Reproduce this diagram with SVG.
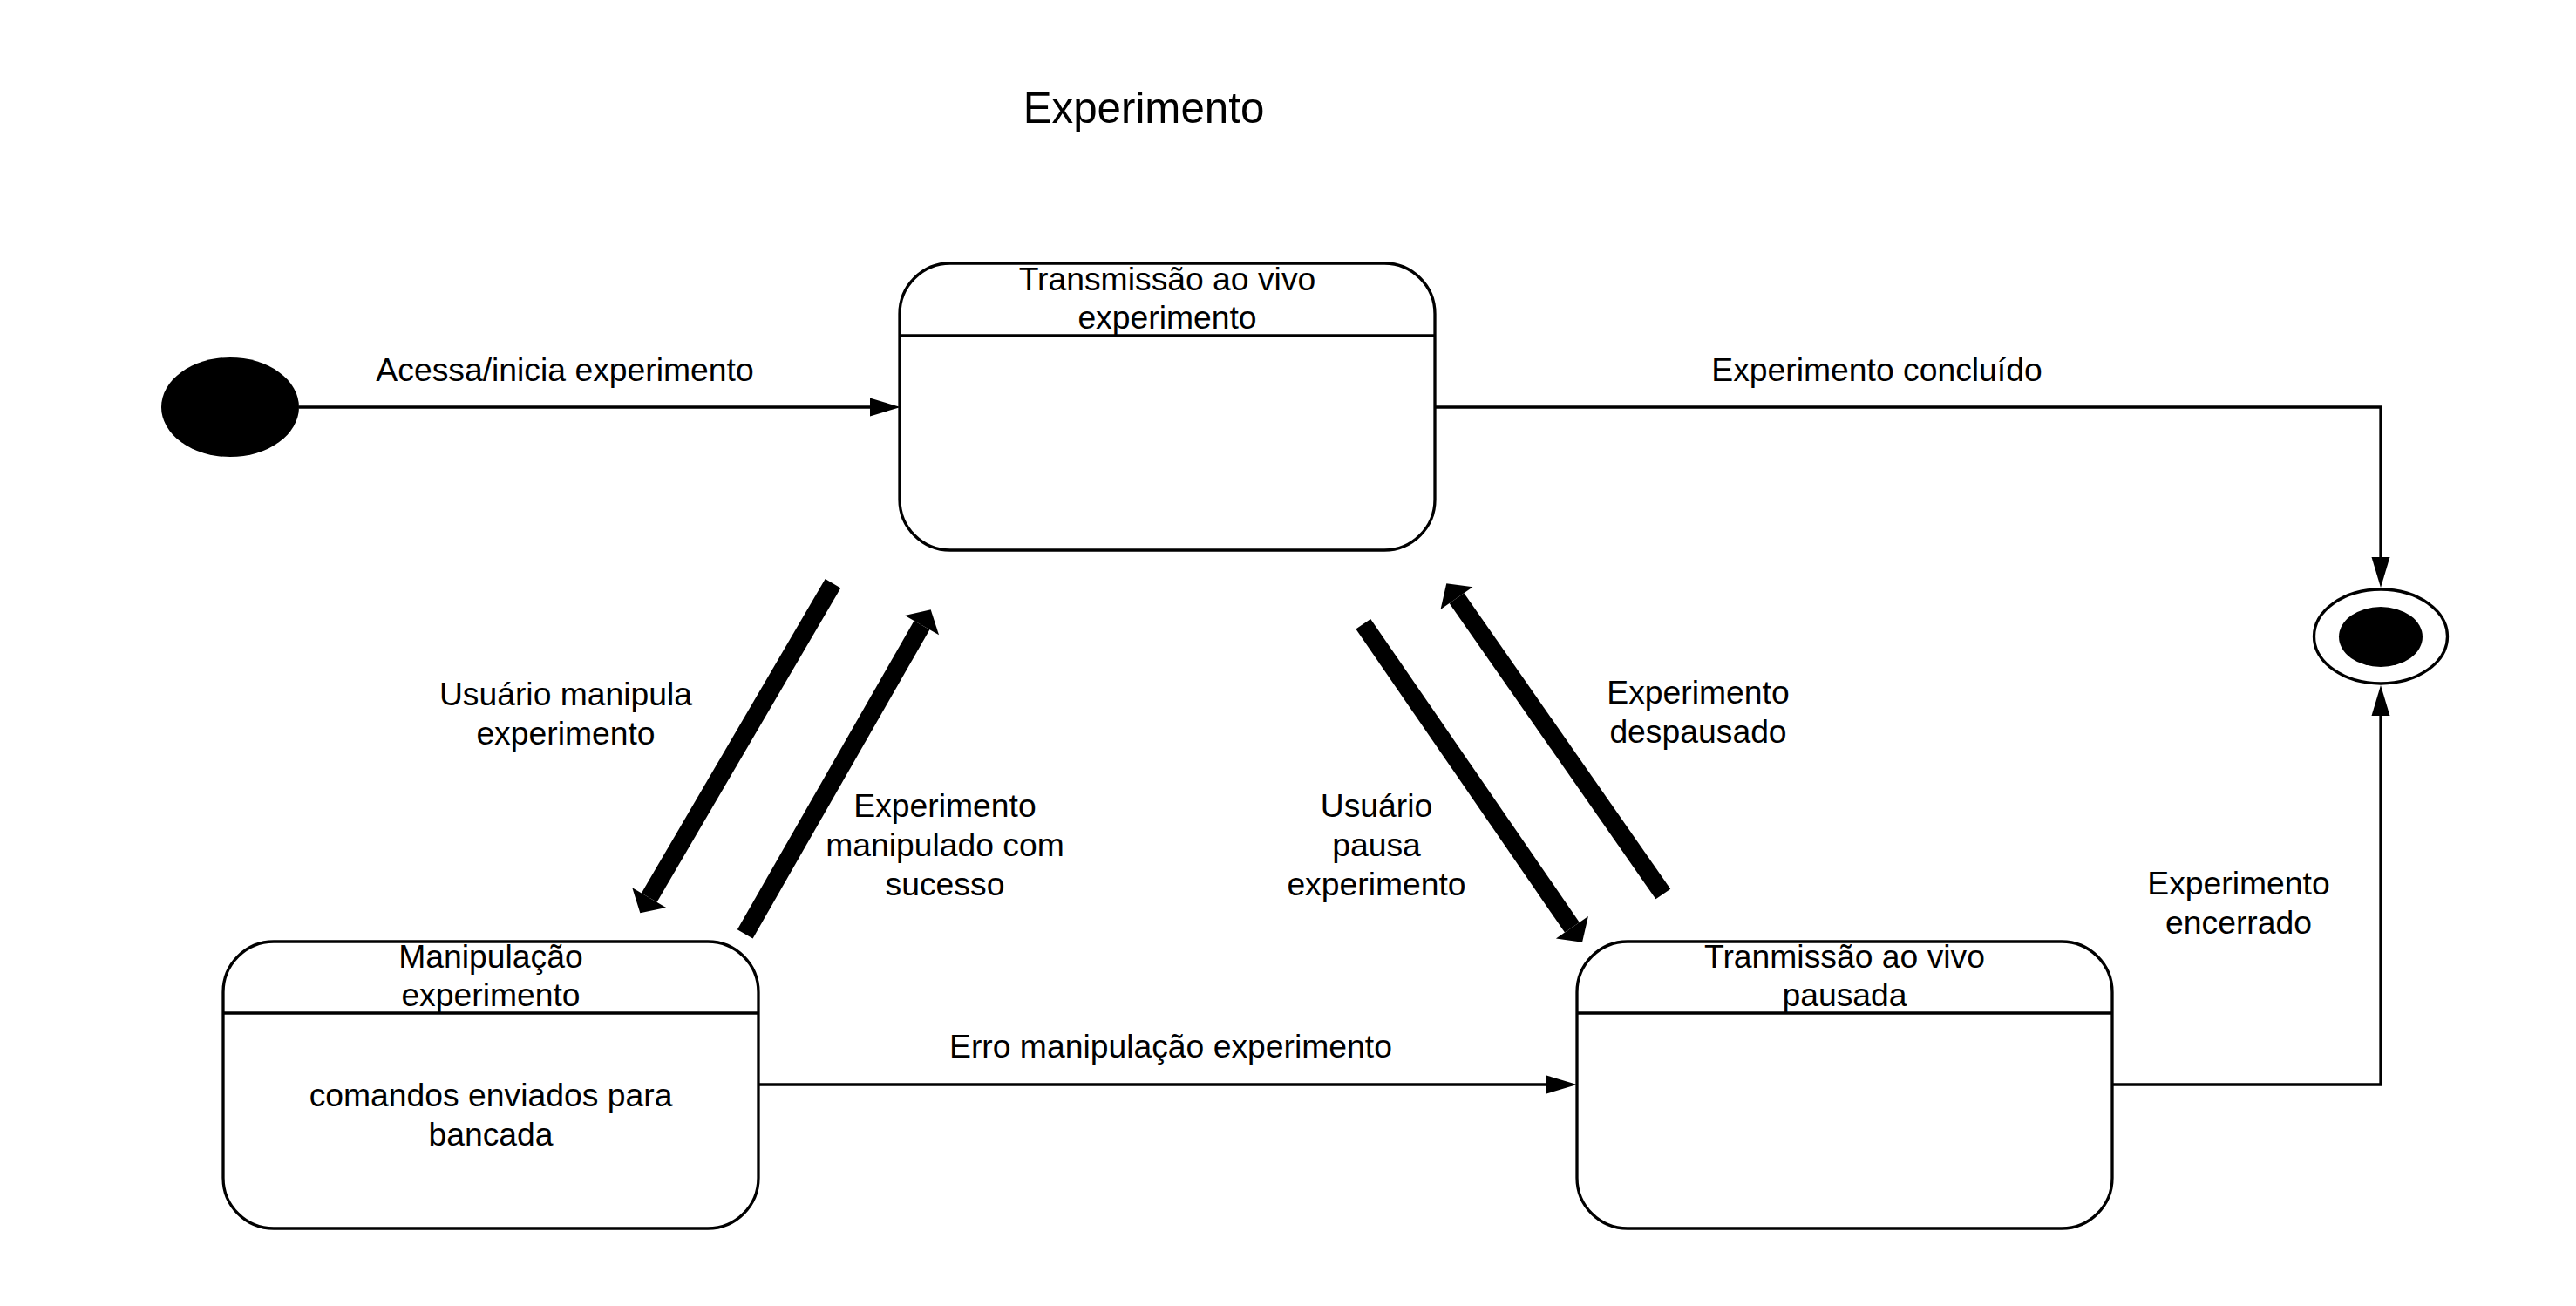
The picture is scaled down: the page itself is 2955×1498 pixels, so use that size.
<svg xmlns="http://www.w3.org/2000/svg" width="2955" height="1498" viewBox="0 0 2955 1498">
  <style>
    text { font-family: "Liberation Sans", Arial, sans-serif; font-size: 37.3px; fill: #000; text-anchor: middle; }
    .title { font-size: 49.3px; }
    .state { fill: #fff; stroke: #000; stroke-width: 3.3; }
    .div { stroke: #000; stroke-width: 3.3; }
    .edge { fill: none; stroke: #000; stroke-width: 3.3; }
    .thick { fill: none; stroke: #000; stroke-width: 20.5; stroke-linecap: butt; }
  </style>
  <defs>
    <marker id="thin" markerUnits="userSpaceOnUse" orient="auto" markerWidth="40" markerHeight="24" refX="0" refY="12" viewBox="0 0 40 24" overflow="visible">
      <path d="M0,1.5 L35,12 L0,22.5 Z" fill="#000"/>
    </marker>
    <marker id="thickhead" markerUnits="userSpaceOnUse" orient="auto" markerWidth="24" markerHeight="48" refX="0" refY="24" viewBox="0 0 24 48" overflow="visible">
      <path d="M0,1.5 L20.5,24 L0,46.5 Z" fill="#000"/>
    </marker>
  </defs>
  <rect width="2955" height="1498" fill="#fff"/>

  <g id="title">
    <text class="title" x="1312" y="141">Experimento</text>
  </g>

  <g id="connectors">
    <g id="e-acessa">
      <path class="edge" d="M343,467 L998,467" marker-end="url(#thin)"/>
      <text x="648" y="437">Acessa/inicia experimento</text>
    </g>
    <g id="e-concluido">
      <path class="edge" d="M1646,467 L2731,467 L2731,639" marker-end="url(#thin)"/>
      <text x="2153" y="437">Experimento concluído</text>
    </g>
    <g id="e-erro">
      <path class="edge" d="M870,1244 L1774,1244" marker-end="url(#thin)"/>
      <text x="1343" y="1213">Erro manipulação experimento</text>
    </g>
    <g id="e-encerrado">
      <path class="edge" d="M2423,1244 L2731,1244 L2731,821" marker-end="url(#thin)"/>
      <text x="2568" y="1026">Experimento</text>
      <text x="2568" y="1071">encerrado</text>
    </g>
    <g id="e-manipula">
      <path class="thick" d="M955.5,669.3 L744.7,1029.6" marker-end="url(#thickhead)"/>
      <text x="649" y="809">Usuário manipula</text>
      <text x="649" y="854">experimento</text>
    </g>
    <g id="e-sucesso">
      <path class="thick" d="M854.7,1071.3 L1057.5,717.1" marker-end="url(#thickhead)"/>
      <text x="1084" y="937">Experimento</text>
      <text x="1084" y="982">manipulado com</text>
      <text x="1084" y="1027">sucesso</text>
    </g>
    <g id="e-pausa">
      <path class="thick" d="M1563.8,715.8 L1803.4,1063.8" marker-end="url(#thickhead)"/>
      <text x="1579" y="937">Usuário</text>
      <text x="1579" y="982">pausa</text>
      <text x="1579" y="1027">experimento</text>
    </g>
    <g id="e-despausado">
      <path class="thick" d="M1907.8,1025.5 L1671,686.1" marker-end="url(#thickhead)"/>
      <text x="1948" y="807">Experimento</text>
      <text x="1948" y="852">despausado</text>
    </g>
  </g>

  <g id="initial">
    <ellipse cx="264" cy="467" rx="79" ry="57" fill="#000"/>
  </g>

  <g id="transmissao">
    <rect class="state" x="1032" y="302" width="614" height="329" rx="58" ry="58"/>
    <line class="div" x1="1032" y1="385" x2="1646" y2="385"/>
    <text x="1339" y="333">Transmissão ao vivo</text>
    <text x="1339" y="377">experimento</text>
  </g>

  <g id="manipulacao">
    <rect class="state" x="256" y="1080" width="614" height="329" rx="58" ry="58"/>
    <line class="div" x1="256" y1="1162" x2="870" y2="1162"/>
    <text x="563" y="1110">Manipulação</text>
    <text x="563" y="1154">experimento</text>
    <text x="563" y="1269">comandos enviados para</text>
    <text x="563" y="1314">bancada</text>
  </g>

  <g id="pausada">
    <rect class="state" x="1809" y="1080" width="614" height="329" rx="58" ry="58"/>
    <line class="div" x1="1809" y1="1162" x2="2423" y2="1162"/>
    <text x="2116" y="1110">Tranmissão ao vivo</text>
    <text x="2116" y="1154">pausada</text>
  </g>

  <g id="final">
    <ellipse cx="2731" cy="730" rx="76.5" ry="54" fill="#fff" stroke="#000" stroke-width="3.3"/>
    <ellipse cx="2731" cy="730.5" rx="48" ry="34.5" fill="#000"/>
  </g>
</svg>
